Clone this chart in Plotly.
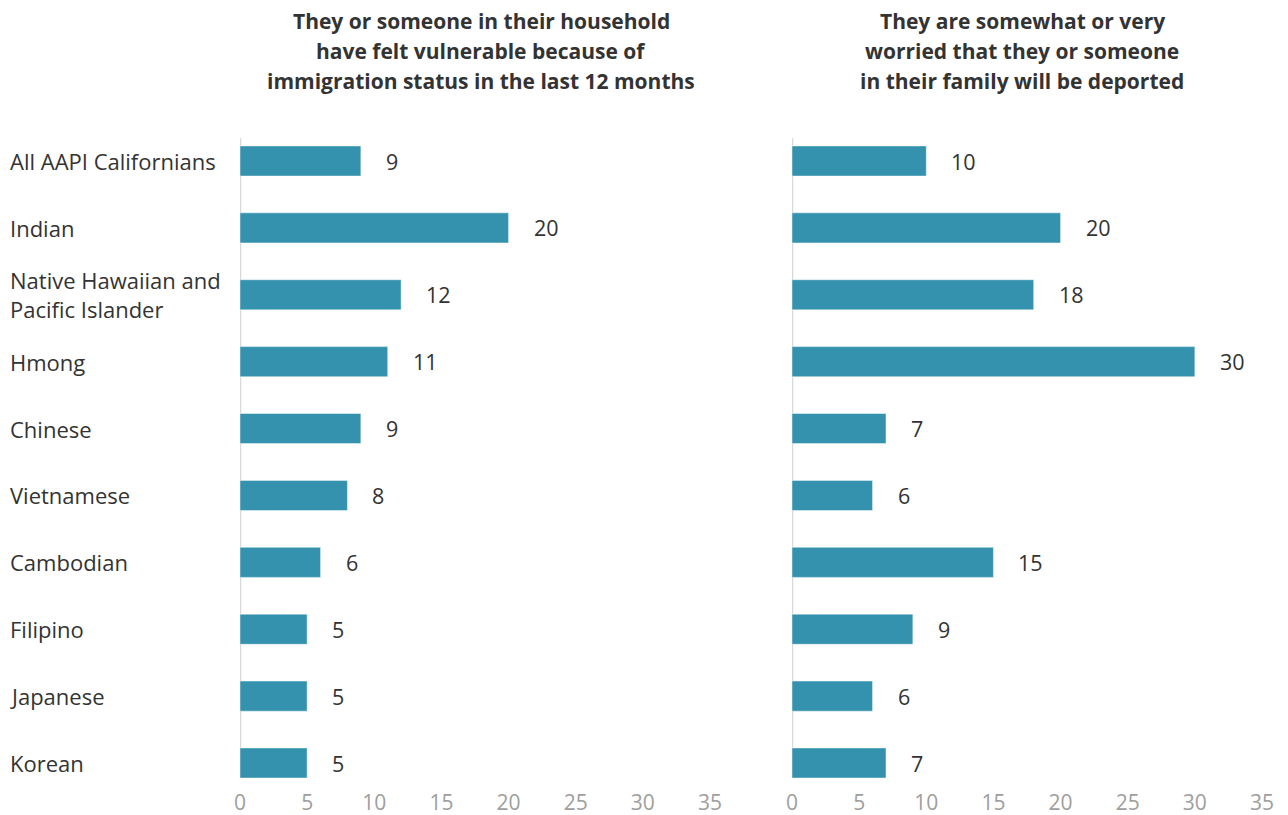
import plotly.graph_objects as go

categories = ["All AAPI Californians", "Indian", "Native Hawaiian and<br>Pacific Islander",
              "Hmong", "Chinese", "Vietnamese", "Cambodian", "Filipino", "Japanese", "Korean"]
vulnerable = [9, 20, 12, 11, 9, 8, 6, 5, 5, 5]
deported = [10, 20, 18, 30, 7, 6, 15, 9, 6, 7]
title_left = ["They or someone in their household",
              "have felt vulnerable because of",
              "immigration status in the last 12 months"]
title_right = ["They are somewhat or very",
               "worried that they or someone",
               "in their family will be deported"]
tick_vals = [0, 5, 10, 15, 20, 25, 30, 35]

W, H = 1288, 815
BAR = "#3592ae"
DARK = "#333333"
GREY = "#9e9e9e"
FONT = "Open Sans"

ypos = list(range(len(categories)))

fig = go.Figure()
for i, vals in enumerate([vulnerable, deported]):
    xa = "x" if i == 0 else "x2"
    ya = "y" if i == 0 else "y2"
    fig.add_shape(type="line", xref=xa, yref=ya, x0=0, x1=0, y0=-0.345, y1=9.225,
                  line=dict(color="#d9d9d9", width=2.5), layer="below")
    fig.add_trace(go.Bar(
        x=vals, y=ypos, orientation="h", xaxis=xa, yaxis=ya,
        marker=dict(color=BAR, line=dict(color="rgba(255,255,255,0.45)", width=1)),
        width=0.45, hoverinfo="skip", showlegend=False,
    ))
    for v, yy in zip(vals, ypos):
        fig.add_annotation(x=v, y=yy, xref=xa, yref=ya, text=str(v), showarrow=False,
                           xanchor="left", yanchor="middle", xshift=23,
                           font=dict(family=FONT, size=21.5, color=DARK))

# category labels
for c, yy in zip(categories, ypos):
    fig.add_annotation(x=8 / W, y=yy, xref="paper", yref="y", text=c, showarrow=False,
                       xanchor="left", yanchor="middle", align="left",
                       font=dict(family=FONT, size=22, color=DARK))

top_px, bot_px = 135, 788

# titles, one annotation per line for 30px line spacing
for x_px, lines in [(481, title_left), (1022, title_right)]:
    for k, line in enumerate(lines):
        y_px = 21 + 30 * k
        fig.add_annotation(x=x_px / W, y=(bot_px - y_px) / (bot_px - top_px),
                           xref="paper", yref="paper",
                           yanchor="middle", text="<b>" + line + "</b>", showarrow=False,
                           xanchor="center", align="center",
                           font=dict(family=FONT, size=21, color=DARK))

y_top = 0 - (161 - top_px) / 66.89
y_bot = 9 + (bot_px - 763) / 66.89

axis_x = dict(range=[0, 35], tickvals=tick_vals, showgrid=False, zeroline=False, showline=False,
              ticks="", tickfont=dict(family=FONT, size=21, color=GREY), fixedrange=True)
axis_y = dict(range=[y_bot, y_top], showticklabels=False, showgrid=False, zeroline=False,
              showline=False, ticks="")

fig.update_layout(
    width=W, height=H,
    margin=dict(l=0, r=0, t=top_px, b=H - bot_px, autoexpand=False),
    paper_bgcolor="white", plot_bgcolor="white",
    xaxis=dict(domain=[240 / W, 710 / W], anchor="y", **axis_x),
    xaxis2=dict(domain=[792 / W, 1262 / W], anchor="y2", **axis_x),
    yaxis=dict(domain=[0, 1], anchor="x", **axis_y),
    yaxis2=dict(domain=[0, 1], anchor="x2", **axis_y),
    bargap=0.55,
    font=dict(family=FONT),
)

fig.write_html("out.html")
